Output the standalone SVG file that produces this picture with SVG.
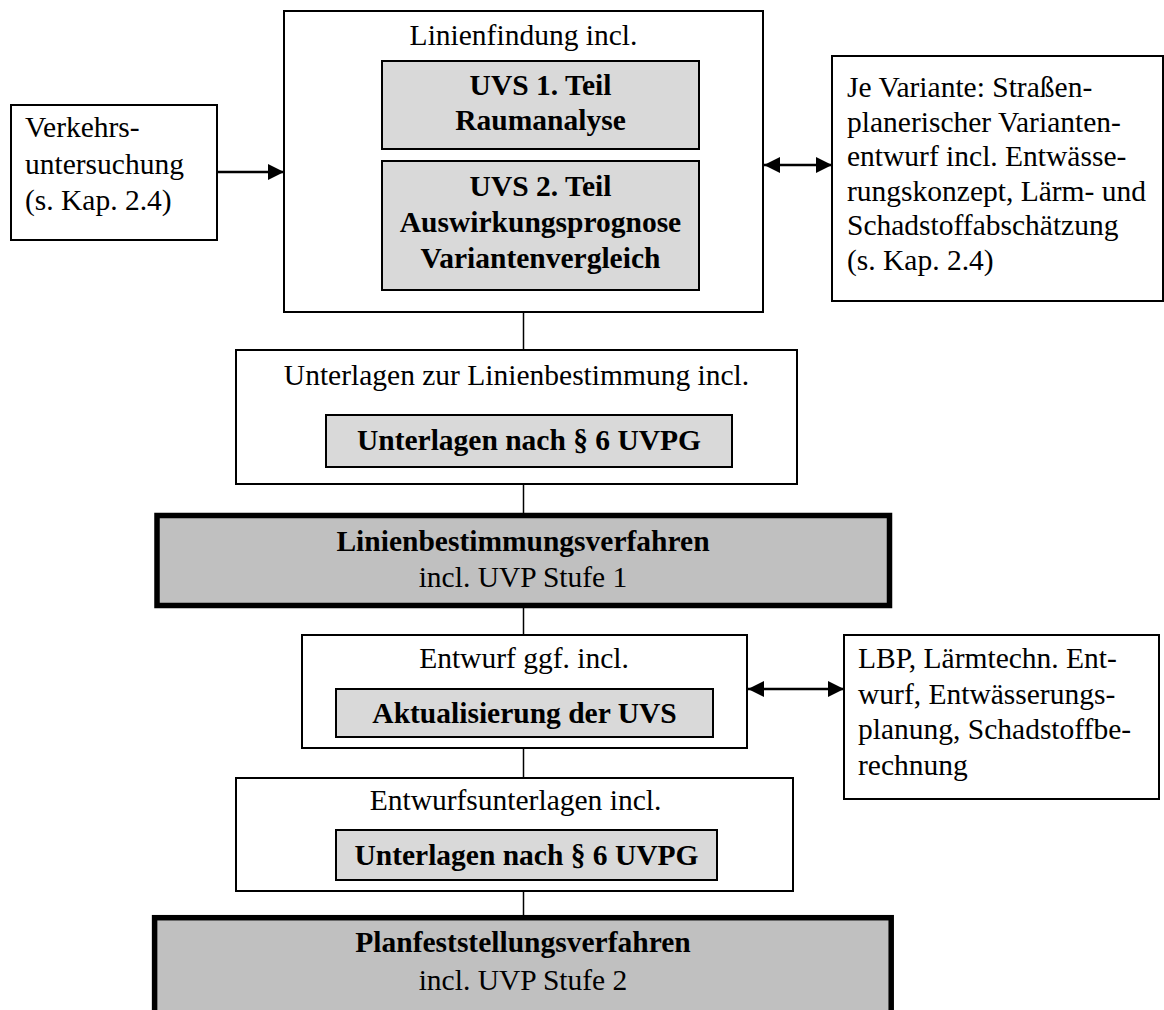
<svg xmlns="http://www.w3.org/2000/svg" width="1164" height="1010" viewBox="0 0 1164 1010">
<defs>
<style>
.box{fill:#fff;stroke:#000;stroke-width:2}
.inner{fill:#d9d9d9;stroke:#000;stroke-width:2}
.proc{fill:#c0c0c0;stroke:#000;stroke-width:5.5}
.t{font-family:"Liberation Serif","Times New Roman",serif;font-size:29.5px;fill:#000}
.b{font-weight:bold}
.c{text-anchor:middle}
.ln{stroke:#000;stroke-width:1.5;fill:none}
.ar{stroke:#000;stroke-width:2.5;fill:none}
</style>
<marker id="ah" markerUnits="userSpaceOnUse" markerWidth="16" markerHeight="16" refX="15" refY="7.5" orient="auto-start-reverse" viewBox="0 0 15 15">
<path d="M0,0 L15,7.5 L0,15 z" fill="#000"/>
</marker>
</defs>

<g id="connectors">
<line class="ar" x1="217" y1="172" x2="284" y2="172" marker-end="url(#ah)"/>
<line class="ar" x1="764" y1="165" x2="832" y2="165" marker-start="url(#ah)" marker-end="url(#ah)"/>
<line class="ar" x1="748" y1="689" x2="844" y2="689" marker-start="url(#ah)" marker-end="url(#ah)"/>
<line class="ln" x1="523.5" y1="312" x2="523.5" y2="350"/>
<line class="ln" x1="523.5" y1="484" x2="523.5" y2="513"/>
<line class="ln" x1="523.5" y1="608" x2="523.5" y2="635"/>
<line class="ln" x1="523.5" y1="748" x2="523.5" y2="778"/>
<line class="ln" x1="523.5" y1="891" x2="523.5" y2="915"/>
</g>

<g id="verkehrsuntersuchung">
<rect class="box" x="11" y="105" width="206" height="135"/>
<text class="t" x="25" y="137">Verkehrs-</text>
<text class="t" x="25" y="173.5">untersuchung</text>
<text class="t" x="25" y="210">(s. Kap. 2.4)</text>
</g>

<g id="linienfindung">
<rect class="box" x="284" y="11" width="479" height="301"/>
<text class="t c" x="523.5" y="45">Linienfindung incl.</text>
<rect class="inner" x="382" y="61" width="317" height="88"/>
<text class="t b c" x="540.5" y="95">UVS 1. Teil</text>
<text class="t b c" x="540.5" y="130">Raumanalyse</text>
<rect class="inner" x="382" y="161" width="317" height="129"/>
<text class="t b c" x="540.5" y="196">UVS 2. Teil</text>
<text class="t b c" x="540.5" y="232">Auswirkungsprognose</text>
<text class="t b c" x="540.5" y="268">Variantenvergleich</text>
</g>

<g id="variantenentwurf">
<rect class="box" x="832" y="56" width="331" height="245"/>
<text class="t" x="847" y="97">Je Variante: Straßen-</text>
<text class="t" x="847" y="131.6">planerischer Varianten-</text>
<text class="t" x="847" y="166.2">entwurf incl. Entwässe-</text>
<text class="t" x="847" y="200.8">rungskonzept, Lärm- und</text>
<text class="t" x="847" y="235.4">Schadstoffabschätzung</text>
<text class="t" x="847" y="270">(s. Kap. 2.4)</text>
</g>

<g id="unterlagen-linienbestimmung">
<rect class="box" x="236" y="350" width="561" height="134"/>
<text class="t c" x="516.5" y="385">Unterlagen zur Linienbestimmung incl.</text>
<rect class="inner" x="326" y="415" width="406" height="52"/>
<text class="t b c" x="529" y="450">Unterlagen nach § 6 UVPG</text>
</g>

<g id="linienbestimmungsverfahren">
<rect class="proc" x="157" y="515.5" width="732.5" height="90"/>
<text class="t b c" x="523" y="551">Linienbestimmungsverfahren</text>
<text class="t c" x="523" y="587">incl. UVP Stufe 1</text>
</g>

<g id="entwurf">
<rect class="box" x="302" y="635" width="445" height="113"/>
<text class="t c" x="524" y="668">Entwurf ggf. incl.</text>
<rect class="inner" x="336" y="689" width="377" height="48"/>
<text class="t b c" x="524.5" y="723">Aktualisierung der UVS</text>
</g>

<g id="lbp">
<rect class="box" x="844" y="635" width="315" height="164"/>
<text class="t" x="858" y="668">LBP, Lärmtechn. Ent-</text>
<text class="t" x="858" y="703.5">wurf, Entwässerungs-</text>
<text class="t" x="858" y="739">planung, Schadstoffbe-</text>
<text class="t" x="858" y="774.5">rechnung</text>
</g>

<g id="entwurfsunterlagen">
<rect class="box" x="236" y="778" width="557" height="113"/>
<text class="t c" x="515.5" y="810">Entwurfsunterlagen incl.</text>
<rect class="inner" x="336" y="830" width="381" height="50"/>
<text class="t b c" x="526.5" y="865">Unterlagen nach § 6 UVPG</text>
</g>

<g id="planfeststellungsverfahren">
<rect class="proc" x="154.6" y="917.7" width="736.6" height="110"/>
<text class="t b c" x="523" y="952">Planfeststellungsverfahren</text>
<text class="t c" x="523" y="990">incl. UVP Stufe 2</text>
</g>
</svg>
